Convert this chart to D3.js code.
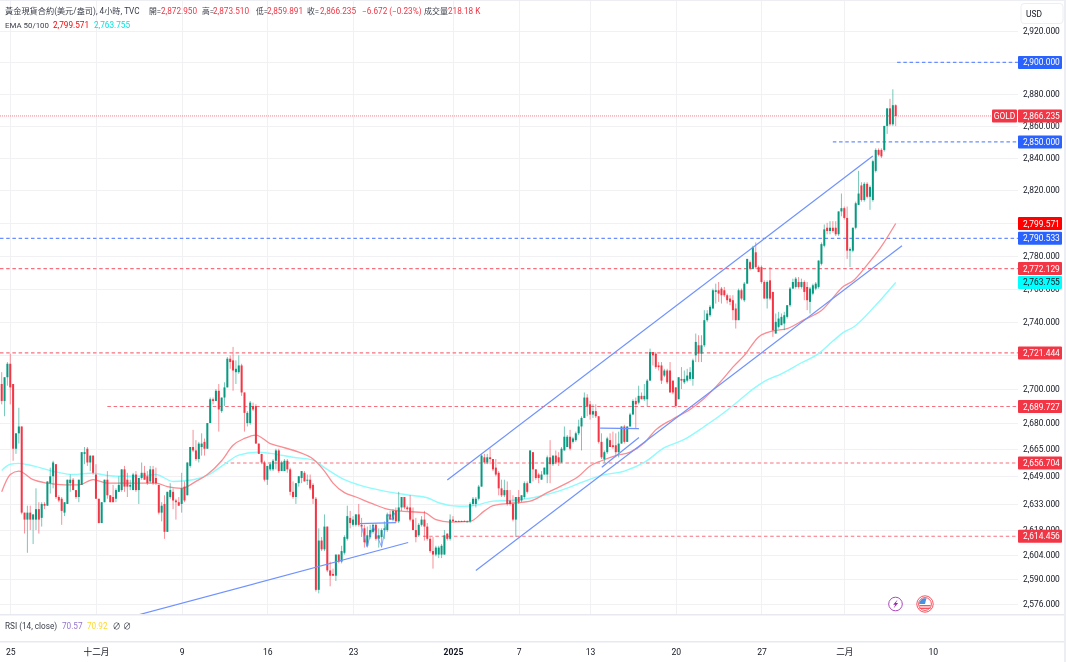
<!DOCTYPE html>
<html><head><meta charset="utf-8">
<script src="https://cdn.jsdelivr.net/npm/d3@7"></script>
<style>
html,body{margin:0;padding:0;background:#fff}
svg{display:block;filter:blur(0.3px)}
text{font-family:Roboto,"Noto Sans CJK TC",sans-serif}
</style></head><body>
<svg id="c" width="1066" height="662"></svg>
<script>
// ---- candle values, one entry per 4-hour bar ----
const opens=[2703,2693,2707,2715,2703,2665,2674,2678,2628,2624,2628,2624,2624,2630,2625,2633,2632,2645,2649,2656,2637,2636,2628,2633,2645,2647,2641,2637,2644,2662,
2665,2657,2661,2650,2636,2622,2634,2647,2638,2637,2636,2640,2641,2653,2647,2643,2641,2650,2641,2648,2651,2649,2646,2653,2648,2644,2628,2633,2617,2637,
2640,2635,2634,2633,2643,2638,2655,2666,2664,2659,2666,2669,2665,2680,2694,2693,2699,2687,2695,2701,2718,2717,2710,2710,2714,2698,2680,2680,2690,2690,
2668,2662,2657,2647,2653,2653,2658,2664,2652,2652,2658,2653,2640,2637,2645,2648,2651,2647,2647,2644,2636,2584,2612,2607,2620,2595,2593,2592,2604,2600,
2605,2613,2625,2621,2621,2627,2621,2619,2609,2614,2617,2621,2613,2614,2618,2618,2627,2624,2629,2623,2631,2637,2631,2631,2624,2618,2615,2621,2624,2620,
2613,2606,2604,2604,2604,2604,2616,2613,2624,2623,2623.2,2623,2623.2,2623,2623,2633,2633,2636,2643,2660,2657,2660,2659,2654,2651,2642,2638,2641,2635,2633,
2624,2637,2635,2637,2645,2645,2663,2653,2650,2647,2650,2650,2660,2656,2661,2660,2657,2664,2666,2672,2669,2670,2674,2678,2683,2695,2691,2685,2687,2684,
2669,2659,2663,2670,2667,2667,2663,2668,2678,2669,2678,2685,2693,2692,2696,2694,2694,2705,2722,2721,2714,2714,2708,2711,2711,2705,2701,2694,2706,2704,
2705,2706,2706,2720,2726,2721,2726,2741,2744,2748,2758,2759,2760,2759,2756,2754,2753,2748,2741,2759,2753,2763,2776,2772,2782,2773,2773,2764,2754,2765,
2758,2733,2737,2738,2739,2743,2750,2760,2761,2764,2761,2764,2761,2752,2757,2760,2761,2775,2786,2797,2795,2797,2797,2793,2807,2809,2803,2783,2783,2797,
2811,2823,2814,2824,2816,2814,2832,2845,2845,2845,2860,2871,2861,2872.95];
const highs=[2710,2707,2716,2721,2703,2674,2689,2678,2628,2632,2632,2627,2642,2634,2634,2634,2646,2654,2658,2656,2638,2637,2634,2647,2650,2648,2641,2647,2663,2666,
2666,2661,2661,2656,2636,2634,2647,2652,2638,2644,2642,2649,2653,2655,2651,2647,2651,2652,2648,2657,2655,2652,2655,2655,2654,2644,2634,2638,2640,2645,
2642,2636,2637,2651,2646,2657,2666,2676,2670,2669,2674,2671,2680,2695,2695,2700,2703,2695,2704,2719,2720,2725,2717,2720,2715,2698,2687,2693,2692,2691,
2668,2662,2658,2655,2657,2659,2665,2665,2658,2659,2659,2654,2646,2645,2649,2652,2652,2650,2650,2645,2637,2619,2614,2627,2620,2600,2596,2604,2604,2609,
2615,2632,2629,2626,2627,2633,2625,2621,2620,2621,2622,2622,2619,2619,2623,2628,2629,2630,2631,2640,2637,2637,2632,2638,2631,2625,2622,2626,2629,2622,
2614,2614,2609,2609,2610,2618,2616,2627,2626,2623.5,2623.5,2623.4,2623.6,2623.4,2634,2637,2637,2644,2662,2662,2662,2665,2659,2659,2652,2647,2647,2646,2641,2638,
2637,2641,2638,2646,2646,2664,2663,2653,2651,2652,2654,2661,2670,2661,2664,2663,2666,2678,2673,2676,2672,2675,2682,2684,2698,2697,2693,2691,2691,2684,
2674,2664,2672,2674,2675,2674,2675,2678,2679,2678,2686,2694,2695,2702,2698,2703,2706,2724,2722,2722,2716,2716,2712,2712,2716,2705,2701,2707,2713,2711,
2712,2713,2718,2733,2732,2732,2747,2747,2750,2760,2763,2764,2761,2761,2757,2756,2756,2751,2760,2760,2764,2778,2777,2786,2788,2774,2774,2765,2765,2773,
2758,2745,2746,2745,2746,2750,2761,2766,2767,2767,2766,2765,2764,2761,2763,2764,2777,2788,2799,2800,2801,2801,2801,2807,2818,2810,2810,2785,2797,2813,
2832,2825,2825,2825,2823,2839,2846,2846,2846,2860,2871,2877,2883,2873.51];
const lows=[2691,2684,2702,2691,2658,2662,2668,2627,2616,2605,2618,2610,2618,2616,2620,2630,2632,2639,2642,2636,2634,2621,2626,2633,2640,2641,2636,2634,2644,2656,
2655,2652,2650,2636,2622,2622,2634,2636,2634,2634,2634,2640,2640,2640,2637,2641,2641,2640,2633,2647,2647,2644,2645,2644,2644,2627,2623,2613,2617,2636,
2630,2624,2632,2628,2634,2638,2654,2663,2658,2657,2661,2661,2665,2680,2691,2693,2675,2686,2690,2701,2712,2699,2703,2709,2696,2675,2678,2679,2687,2668,
2662,2656,2646,2644,2652,2652,2653,2651,2652,2652,2651,2638,2636,2633,2643,2645,2646,2644,2641,2633,2583,2582,2606,2606,2594,2586,2592,2589,2599,2599,
2604,2612,2619,2620,2620,2620,2614,2608,2608,2613,2616,2612,2608,2608,2613,2617,2624,2623,2622,2622,2629,2630,2629,2623,2618,2611,2614,2620,2612,2612,
2605,2596,2603,2602,2602,2604,2612,2612,2623,2622.7,2622.8,2622.7,2622.9,2622.7,2622,2632,2631,2635,2643,2656,2656,2656,2652,2649,2638,2637,2637,2632,2632,2623,
2614,2633,2634,2636,2639,2645,2646,2647,2645,2647,2650,2645,2645,2655,2656,2655,2657,2664,2666,2664,2668,2669,2673,2664,2683,2684,2682,2683,2683,2668,
2659,2657,2662,2666,2665,2660,2660,2668,2668,2669,2678,2685,2677,2691,2694,2693,2690,2705,2714,2712,2711,2703,2707,2703,2698,2697,2689,2694,2700,2703,
2704,2705,2702,2716,2716,2716,2725,2740,2743,2748,2751,2752,2751,2755,2751,2750,2741,2736,2741,2753,2752,2763,2771,2772,2772,2770,2763,2754,2748,2753,
2731,2733,2736,2738,2735,2742,2749,2760,2760,2760,2760,2753,2747,2745,2756,2759,2760,2774,2785,2793,2793,2794,2792,2792,2804,2802,2778,2773,2782,2796,
2811,2813,2813,2815,2808,2813,2831,2841,2840,2844,2855,2860,2860,2859.891];
const closes=[2693,2707,2715,2701,2665,2674,2678,2628,2624,2628,2624,2627,2630,2624,2633,2632,2646,2649,2657,2637,2635,2629,2634,2647,2647,2641,2637,2647,2663,2663,
2657,2661,2651,2636,2622,2634,2647,2638,2634,2634,2641,2644,2653,2643,2643,2644,2650,2641,2648,2651,2647,2645,2653,2645,2645,2628,2632,2617,2640,2641,
2635,2634,2632,2642,2635,2657,2666,2664,2659,2668,2668,2665,2680,2694,2693,2699,2688,2695,2701,2718,2716,2711,2712,2714,2698,2686,2686,2692,2688,2668,
2662,2657,2647,2655,2656,2658,2664,2652,2657,2658,2653,2640,2637,2645,2649,2652,2646,2647,2642,2636,2584,2612,2607,2620,2595,2592,2592,2604,2600,2606,
2614,2626,2622,2624,2627,2621,2620,2611,2615,2618,2621,2613,2615,2618,2619,2627,2624,2629,2623,2631,2637,2631,2630,2624,2618,2614,2621,2624,2620,2613,
2606,2604,2608,2608,2609,2615,2613,2624,2623,2623.2,2623,2623.2,2623,2623,2633,2636,2636,2643,2661,2657,2660,2659,2653,2650,2642,2638,2641,2633,2633,2624,
2637,2634,2638,2645,2640,2664,2653,2648,2648,2650,2654,2660,2656,2661,2657,2657,2665,2672,2672,2665,2671,2674,2678,2683,2695,2690,2685,2687,2684,2669,
2660,2663,2671,2666,2666,2663,2668,2678,2669,2678,2685,2693,2691,2696,2694,2696,2705,2722,2720,2713,2713,2705,2711,2704,2698,2698,2690,2707,2705,2706,
2708,2710,2717,2728,2721,2726,2741,2745,2749,2759,2759,2757,2756,2756,2753,2752,2747,2741,2759,2754,2763,2778,2772,2785,2773,2770,2764,2754,2764,2754,
2735,2740,2742,2743,2744,2750,2760,2764,2766,2761,2764,2758,2753,2760,2762,2763,2777,2787,2796,2795,2797,2795,2793,2807,2809,2803,2783,2784,2797,2812,
2818,2814,2824,2816,2822,2838,2845,2842,2841,2860,2871,2861,2873,2866.235];

// ---- moving averages: bar index and value ----
const ema50Bars=[0,3,6,11,16,22,27,32,37,48,54,58,63,68,72,77,81,85,89,94,97,104,109,113,116,120,124,130,135,139,148,152,157,164,169,172,178,185,191,197,202,206,210,215,220,225,229,235,241,246,252,256,260,265,270,275,281,287,295,298,303,308,313];
const ema50Vals=[2640,2650,2652,2647,2645,2644,2644,2647,2645,2645,2645,2643,2642,2646,2650,2658,2667,2671,2673,2668,2666.5,2663,2659,2652,2645,2639.5,2637,2633,2630,2629,2628,2624,2622.6,2623,2629,2632,2633.3,2634.6,2639.5,2644.3,2649,2655,2658,2661,2663,2668.5,2676,2682.4,2688,2694.6,2705,2713,2720,2731,2734.6,2736,2741.3,2746.8,2761.7,2764.6,2774.4,2785.6,2799.571];
const ema100Bars=[0,3,6,11,19,25,31,40,48,54,60,67,72,78,83,90,94,102,109,113,120,125,134,143,149,153,160,165,172,178,186,195,204,210,218,225,232,239,246,252,258,263,268,273,280,286,291,295,298,306,313];
const ema100Vals=[2652.4,2656,2656.5,2655,2651.5,2650,2650.7,2649,2649,2650,2646,2647,2649.5,2656,2661.3,2663,2662.3,2660,2658.4,2654,2647,2644,2640.4,2638,2636.6,2633.7,2631.7,2632,2634.6,2635,2636.6,2640.4,2646,2649.5,2652,2657,2665.6,2670.4,2678,2685,2693,2700,2705.4,2709,2715.6,2721,2728.5,2734,2736.6,2750,2763.755];

// ---- horizontal levels ----
const redLevels=[2721.444,2689.727,2656.704,2614.456,2772.129];
const redLevelStart=[null,37,78,147.5,null];
const blueLevels=[2790.533,2900,2850];
const blueLevelStart=[null,313.5,291];
const lastPrice=2866.235;

// ---- drawn trend lines: [bar,price] pairs ----
const trendLines=[
 [[156,2646.8],[305,2841.2]],
 [[166,2594.9],[315.2,2786]],
 [[48.1,2570],[142.3,2610.9]],
 [[210.1,2654.2],[223.1,2671.6]],
 [[209.5,2677],[223.1,2676.8]],
 [[125.1,2621.7],[138,2622.3]]];
const patternLine=[[126,2620],[127.9,2608.4],[130,2620.5],[133,2608.4],[135.3,2627],[136.6,2624],[137.7,2628]];

// ---- axes ----
const priceTicks=[2576,2590,2604,2618,2633,2649,2665,2680,2700,2720,2740,2760,2780,2800,2820,2840,2860,2880,2900,2920];
const priceTicksHiddenByTags=[2720,2800,2900];
const timeTickBars=[3,33,63,93,123,158,181,206,236,266,295,326];
const timeTickLabels=["25","十二月","9","16","23","2025","7","13","20","27","二月","10"];
const boldTimeTicks=["2025"];

// ---- right-hand price tags ----
const tagValues=[2900,2866.235,2850,2799.571,2790.533,2772.129,2763.755,2721.444,2689.727,2656.704,2614.456];
const tagFills=["#2962ff","#f23645","#2962ff","#ff0000","#2962ff","#f23645","#00ffff","#f23645","#f23645","#f23645","#f23645"];
const tagInks=["#fff","#fff","#fff","#fff","#fff","#fff","#131722","#fff","#fff","#fff","#fff"];

// ---- legend text ----
const headerTitle="黃金現貨合約(美元/盎司), 4小時, TVC";
const ohlcNames=["開=","高=","低=","收="];
const ohlcTexts=["2,872.950","2,873.510","2,859.891","2,866.235"];
const changeText="−6.672 (−0.23%)";
const volumeName="成交量";
const volumeText="218.18 K";
const rsiVals=["70.57","70.92"];

// ---- layout ----
const paneR=1018,paneB=614,rsiB=641;
const RED="#f23645",GREEN="#089981",INK="#3a3e4a";
const svg=d3.select("#c");
const x=d3.scaleLinear().domain([0,313]).range([1.7,895.7]);
const y=d3.scaleLog().domain([2576,2920]).range([604,31]);

svg.append("defs").append("clipPath").attr("id","pane").append("rect")
 .attr("x",0).attr("y",0).attr("width",paneR).attr("height",paneB);

// grid
const grid=svg.append("g").attr("stroke","#f1f1f4").attr("stroke-width",1);
grid.selectAll(".h").data(priceTicks).join("line").attr("x1",0).attr("x2",paneR)
 .attr("y1",d=>Math.round(y(d))+.5).attr("y2",d=>Math.round(y(d))+.5);
grid.selectAll(".v").data(timeTickBars.slice(0,-1)).join("line").attr("y1",0).attr("y2",paneB)
 .attr("x1",d=>Math.round(x(d))+.5).attr("x2",d=>Math.round(x(d))+.5);

const pane=svg.append("g").attr("clip-path","url(#pane)");

// level lines
redLevels.forEach((v,i)=>{
 pane.append("line").attr("x1",redLevelStart[i]==null?0:x(redLevelStart[i])).attr("x2",paneR)
  .attr("y1",y(v)).attr("y2",y(v)).attr("stroke","#f7707e").attr("stroke-width",1.2).attr("stroke-dasharray","3.5 2.7");
});
blueLevels.forEach((v,i)=>{
 pane.append("line").attr("x1",blueLevelStart[i]==null?0:x(blueLevelStart[i])).attr("x2",paneR)
  .attr("y1",y(v)).attr("y2",y(v)).attr("stroke","#6a8dff").attr("stroke-width",1.2).attr("stroke-dasharray","3.5 2.7");
});
pane.append("line").attr("x1",0).attr("x2",paneR).attr("y1",y(lastPrice)).attr("y2",y(lastPrice))
 .attr("stroke","#f7707e").attr("stroke-width",.9).attr("stroke-dasharray","1 1");

// EMAs
const emaLine=d3.line().x(d=>x(d[0])).y(d=>y(d[1])).curve(d3.curveMonotoneX);
pane.append("path").attr("d",emaLine(d3.zip(ema100Bars,ema100Vals))).attr("fill","none").attr("stroke","#8ffbfd").attr("stroke-width",1.4);
pane.append("path").attr("d",emaLine(d3.zip(ema50Bars,ema50Vals))).attr("fill","none").attr("stroke","#fa8c92").attr("stroke-width",1.3);

// candles
const bars=d3.range(closes.length);
const col=i=>closes[i]>=opens[i]?GREEN:RED;
pane.append("g").selectAll("line").data(bars).join("line")
 .attr("x1",i=>x(i)).attr("x2",i=>x(i)).attr("y1",i=>y(highs[i])).attr("y2",i=>y(lows[i]))
 .attr("stroke",col).attr("stroke-width",1).attr("stroke-opacity",.55);
pane.append("g").selectAll("rect").data(bars).join("rect")
 .attr("x",i=>x(i)-1).attr("width",2)
 .attr("y",i=>y(Math.max(opens[i],closes[i])))
 .attr("height",i=>Math.max(1,Math.abs(y(opens[i])-y(closes[i]))))
 .attr("fill",col);

// trend lines
const tl=d3.line().x(d=>x(d[0])).y(d=>y(d[1]));
trendLines.forEach(t=>pane.append("path").attr("d",tl(t)).attr("fill","none").attr("stroke","#6f92ff").attr("stroke-width",1.2));
pane.append("path").attr("d",tl(patternLine)).attr("fill","none").attr("stroke","#6f92ff").attr("stroke-width",.8);

// pane separators
svg.append("rect").attr("x",0).attr("y",0).attr("width",1066).attr("height",1).attr("fill","#eceef3");
svg.append("rect").attr("x",0).attr("y",paneB).attr("width",1066).attr("height",1.5).attr("fill","#e8e9f0");
svg.append("rect").attr("x",0).attr("y",rsiB).attr("width",1066).attr("height",1.5).attr("fill","#e8e9f0");
svg.append("rect").attr("x",1064).attr("y",0).attr("width",2).attr("height",662).attr("fill","#eceef3");

// axes
const fmt=d3.format(",.3f");
const yAxis=d3.axisRight(y).tickValues(priceTicks.filter(d=>!priceTicksHiddenByTags.includes(d))).tickFormat(fmt).tickSize(0).tickPadding(0);
const yG=svg.append("g").attr("transform",`translate(1023,0)`).call(yAxis);
yG.select(".domain").remove();
yG.selectAll("text").attr("font-family",'Roboto').attr("font-size",8.4).attr("fill","#131722");

const labelOf=d3.scaleOrdinal().domain(timeTickBars).range(timeTickLabels);
const xAxis=d3.axisBottom(x).tickValues(timeTickBars).tickFormat(labelOf).tickSize(0).tickPadding(0);
const xG=svg.append("g").attr("transform",`translate(0,649)`).call(xAxis);
xG.select(".domain").remove();
xG.selectAll("text").attr("font-size",8.6).attr("fill","#131722")
 .attr("font-weight",d=>boldTimeTicks.includes(labelOf(d))?700:400);

// tags
const tags=svg.append("g");
tagValues.forEach((v,i)=>{
 const g=tags.append("g").attr("transform",`translate(1018,${y(v)})`);
 g.append("rect").attr("x",0).attr("y",-6.5).attr("width",44).attr("height",13).attr("rx",1).attr("fill",tagFills[i]);
 g.append("text").attr("x",5).attr("y",3).attr("font-size",8.4).attr("fill",tagInks[i]).text(fmt(v));
});
const gold=svg.append("g").attr("transform",`translate(992,${y(lastPrice)})`);
gold.append("rect").attr("x",0).attr("y",-6.5).attr("width",25).attr("height",13).attr("rx",1).attr("fill",RED);
gold.append("text").attr("x",12.5).attr("y",3).attr("text-anchor","middle").attr("font-size",8.4).attr("fill","#fff").text("GOLD");

// USD box
svg.append("rect").attr("x",1021).attr("y",3.5).attr("width",42).attr("height",20).attr("rx",3).attr("fill","#fff").attr("stroke","#eceef2");
svg.append("text").attr("x",1026).attr("y",17).attr("font-size",8.4).attr("fill","#131722").text("USD");

// legend
const T=(s,px,py,c,fs=8.2)=>svg.append("text").attr("x",px).attr("y",py).attr("font-size",fs).attr("fill",c).text(s);
T(headerTitle,5,14.3,INK,8.2);
[149,202,256,307].forEach((px,i)=>T(ohlcNames[i],px,14.3,INK,7.8));
[161,213,267,320].forEach((px,i)=>T(ohlcTexts[i],px,14.3,RED));
T(changeText,362,14.3,RED);
T(volumeName,424,14.3,INK,8);
T(volumeText,448,14.3,RED);
T("EMA 50/100",5,28.2,INK,7.9);
T(fmt(ema50Vals[ema50Vals.length-1]),53,28.2,"#ff0000");
T(fmt(ema100Vals[ema100Vals.length-1]),94,28.2,"#00e5e5");
T("RSI (14, close)",5,629,INK);
T(rsiVals[0],62,629,"#9575cd");
T(rsiVals[1],87,629,"#fdd835");
T("∅",112.5,629,INK);
T("∅",123,629,INK);

// event icons
const ev=svg.append("g").attr("transform","translate(895.5,604)");
ev.append("circle").attr("r",6.8).attr("fill","#fff").attr("stroke","#ab47bc").attr("stroke-width",1);
ev.append("path").attr("d",d3.line()([[2.2,-4.5],[-2.4,0.8],[-0.2,0.8],[-2,4.5],[2.6,-1],[0.4,-1]])+"Z").attr("fill","#9c27b0");
const fl=svg.append("g").attr("transform","translate(925,604)");
fl.append("circle").attr("r",8.2).attr("fill","#fff").attr("stroke","#f7525f").attr("stroke-width",1);
fl.append("circle").attr("r",6.4).attr("fill","#fff").attr("stroke","#f7525f").attr("stroke-width",1);
fl.append("path").attr("d",d3.arc()({innerRadius:0,outerRadius:5.8,startAngle:-Math.PI/2,endAngle:0.25})).attr("fill","#4a90e2");
[1,3.6].forEach(d=>fl.append("rect").attr("x",-5.5).attr("y",d).attr("width",11).attr("height",1.4).attr("fill","#f7525f"));
</script>
</body></html>
